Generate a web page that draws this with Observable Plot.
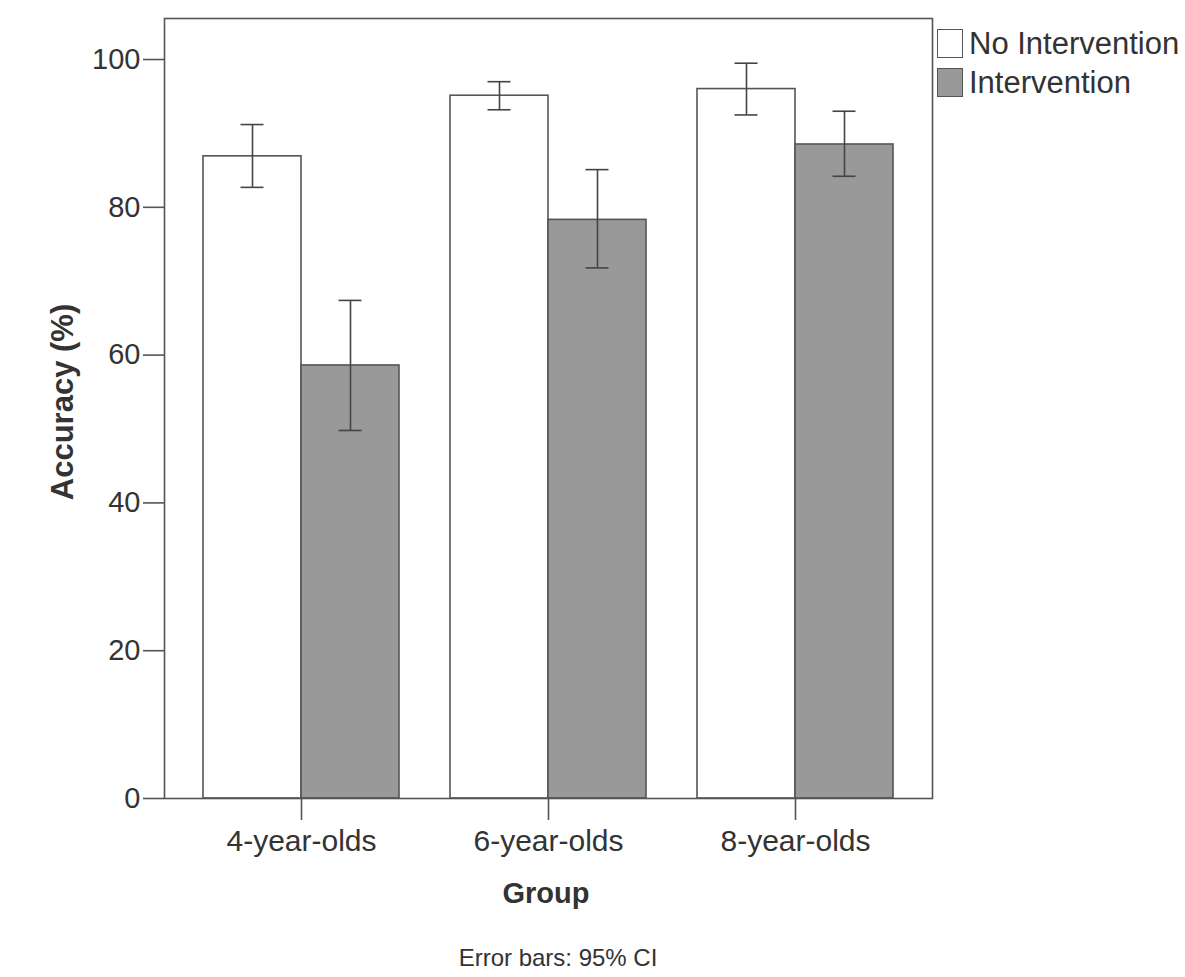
<!DOCTYPE html>
<html><head><meta charset="utf-8">
<script src="https://cdn.jsdelivr.net/npm/d3@7"></script>
<script src="https://cdn.jsdelivr.net/npm/@observablehq/plot@0.6"></script>
<style>
body{margin:0;background:#fff;font-family:"Liberation Sans",Arial,sans-serif;color:#333}
#wrap{position:relative;width:1185px;height:977px;overflow:hidden}
#chart{position:absolute;left:0;top:0}
.lbl{position:absolute;white-space:nowrap;line-height:1}
#ylab{font-weight:bold;font-size:31px;left:62px;top:402px;transform:translate(-50%,-50%) rotate(-90deg)}
#xlab{font-weight:bold;font-size:29px;left:546px;top:879px;transform:translateX(-50%)}
#cap{font-size:24px;left:558px;top:946px;transform:translateX(-50%)}
#legend{position:absolute;left:937px;top:24px}
.item{display:flex;align-items:center;height:39px;font-size:31px}
.sw{width:24px;height:27px;border:1.5px solid #555;margin-right:6px;box-sizing:content-box}
</style></head><body><div id="wrap"><div id="chart"></div>
<div class="lbl" id="ylab">Accuracy (%)</div>
<div class="lbl" id="xlab">Group</div>
<div class="lbl" id="cap">Error bars: 95% CI</div>
<div id="legend"></div>
</div>
<script>
const groups = ["4-year-olds", "6-year-olds", "8-year-olds"];
const conditions = ["No Intervention", "Intervention"];
const meanNo = [86.9, 95.1, 96.0];
const lowNo = [82.7, 93.2, 92.5];
const highNo = [91.2, 97.0, 99.5];
const meanInt = [58.6, 78.3, 88.5];
const lowInt = [49.8, 71.8, 84.2];
const highInt = [67.4, 85.1, 93.0];
const yTicks = [0, 20, 40, 60, 80, 100];
const fills = ["#ffffff", "#999999"];

const noRows = groups.map((g, i) => ({group: g, condition: conditions[0], mean: meanNo[i], low: lowNo[i], high: highNo[i]}));
const intRows = groups.map((g, i) => ({group: g, condition: conditions[1], mean: meanInt[i], low: lowInt[i], high: highInt[i]}));

// half of the band width (each condition takes one half of the group band)
const half = 98, capHalf = 11.5;
const errStyle = {stroke: "#444", strokeWidth: 1.6};

const chart = Plot.plot({
  width: 1185, height: 870,
  marginTop: 18, marginBottom: 72, marginLeft: 164, marginRight: 253,
  style: {fontFamily: '"Liberation Sans", Arial, sans-serif', color: "#333", background: "#fff"},
  x: {domain: groups, paddingInner: 0.20648, paddingOuter: 0.15789, label: null},
  y: {domain: [0, 105.55]},
  color: {domain: conditions, range: fills},
  marks: [
    Plot.barY(noRows, {x: "group", y: "mean", fill: "condition", stroke: "#555", strokeWidth: 1.6, insetRight: half}),
    Plot.barY(intRows, {x: "group", y: "mean", fill: "condition", stroke: "#555", strokeWidth: 1.6, insetLeft: half}),
    Plot.ruleX(noRows, {x: "group", y1: "low", y2: "high", dx: -half / 2, ...errStyle}),
    Plot.ruleX(intRows, {x: "group", y1: "low", y2: "high", dx: half / 2, ...errStyle}),
    Plot.tickY(noRows, {x: "group", y: "low", insetLeft: half / 2 - capHalf, insetRight: half * 1.5 - capHalf, ...errStyle}),
    Plot.tickY(noRows, {x: "group", y: "high", insetLeft: half / 2 - capHalf, insetRight: half * 1.5 - capHalf, ...errStyle}),
    Plot.tickY(intRows, {x: "group", y: "low", insetLeft: half * 1.5 - capHalf, insetRight: half / 2 - capHalf, ...errStyle}),
    Plot.tickY(intRows, {x: "group", y: "high", insetLeft: half * 1.5 - capHalf, insetRight: half / 2 - capHalf, ...errStyle}),
    Plot.axisY({ticks: yTicks, tickSize: 21, tickPadding: 3, fontSize: 29, label: null, stroke: "#555", strokeWidth: 1.6}),
    Plot.axisX({anchor: "bottom", tickSize: 22, tickPadding: 9, fontSize: 30, label: null, stroke: "#555", strokeWidth: 1.6}),
    Plot.frame({stroke: "#555", strokeWidth: 1.6})
  ]
});
document.getElementById("chart").appendChild(chart);

const legend = document.getElementById("legend");
conditions.forEach((c, i) => {
  const item = document.createElement("div");
  item.className = "item";
  const sw = document.createElement("div");
  sw.className = "sw";
  sw.style.background = fills[i];
  const t = document.createElement("span");
  t.textContent = c;
  item.appendChild(sw); item.appendChild(t);
  legend.appendChild(item);
});
</script></body></html>
